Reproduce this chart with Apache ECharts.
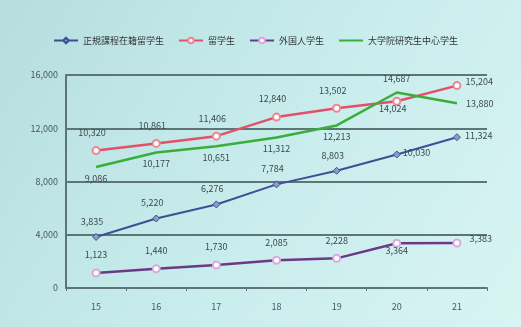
<!DOCTYPE html>
<html><head><meta charset="utf-8">
<script src="https://cdn.jsdelivr.net/npm/echarts@6/dist/echarts.min.js"></script>
<style>html,body{margin:0;padding:0;background:#fff}#c{width:521px;height:327px}</style>
</head><body><div id="c"></div>
<script>
const categories = ['15','16','17','18','19','20','21'];
const seriesNames = ['正規課程在籍留学生','留学生','外国人学生','大学院研究生中心学生'];
const blueVals = [3835, 5220, 6276, 7784, 8803, 10030, 11324];
const redVals = [10320, 10861, 11406, 12840, 13502, 14024, 15204];
const purpleVals = [1123, 1440, 1730, 2085, 2228, 3364, 3383];
const greenVals = [9086, 10177, 10651, 11312, 12213, 14687, 13880];
const yTicks = [0, 4000, 8000, 12000, 16000];

const fmt = v => v.toLocaleString('en-US');
const lblBase = {show:true, color:'#3d4a4a', fontSize:9, fontFamily:'Noto Sans CJK JP', formatter: p => fmt(p.value)};
function withPos(vals, positions){
  return vals.map((v,i)=>({value:v, label:positions[i]}));
}
const right = {position:'right', distance:8};
const chart = echarts.init(document.getElementById('c'));
chart.setOption({
  animation:false,
  backgroundColor:{type:'linear',x:0,y:0,x2:1,y2:1,colorStops:[{offset:0,color:'#b6dedf'},{offset:0.5,color:'#c8ecec'},{offset:1,color:'#d8f4f3'}]},
  textStyle:{fontFamily:'Noto Sans CJK JP'},
  legend:{top:31,left:48,itemWidth:24,itemHeight:7,itemGap:14,
    textStyle:{fontSize:9,color:'#333'},
    data:seriesNames},
  grid:{left:66,right:34,top:75,bottom:39},
  xAxis:{type:'category',data:categories,boundaryGap:true,
    axisLine:{lineStyle:{color:'#5d7675',width:2}},
    axisTick:{show:true,length:3,lineStyle:{color:'#5d7675'}},
    axisLabel:{color:'#4a5656',fontSize:9,margin:14}},
  yAxis:{type:'value',min:0,max:16000,interval:4000,
    axisLine:{show:true,lineStyle:{color:'#5d7675',width:2}},
    axisTick:{show:false},
    splitLine:{lineStyle:{color:'#5d7675',width:2}},
    axisLabel:{color:'#4a5656',fontSize:9,formatter:v=>yTicks.includes(v)?fmt(v):''}},
  series:[
    {name:seriesNames[0],type:'line',data:withPos(blueVals,[{},{},{},{},{position:'top'},{position:'right',distance:6},right]),
      symbol:'diamond',symbolSize:7,color:'#3d4f94',lineStyle:{width:2,color:'#3d4f94'},
      itemStyle:{color:'#8e9cc8',borderColor:'#3d4f94',borderWidth:1},
      label:Object.assign({},lblBase,{position:'top',offset:[-4,-2]})},
    {name:seriesNames[1],type:'line',data:withPos(redVals,[{},{},{},{},{},{position:'bottom',distance:2},right]),
      symbol:'emptyCircle',symbolSize:7,color:'#e2506a',lineStyle:{width:2.5,color:'#e2506a'},
      itemStyle:{color:'#ec8696',borderWidth:2},
      label:Object.assign({},lblBase,{position:'top',offset:[-4,-4]})},
    {name:seriesNames[2],type:'line',data:withPos(purpleVals,[{},{},{},{},{},{position:'bottom',distance:2},right]),
      symbol:'emptyCircle',symbolSize:7,color:'#6b3a86',lineStyle:{width:2.5,color:'#6b3a86'},
      itemStyle:{color:'#d9a9dd',borderWidth:2},
      label:Object.assign({},lblBase,{position:'top',offset:[0,-4]})},
    {name:seriesNames[3],type:'line',data:withPos(greenVals,[{},{},{},{},{},{position:'top',distance:8},right]),
      symbol:'circle',symbolSize:2,color:'#3aae3a',lineStyle:{width:2.5,color:'#3aae3a'},
      itemStyle:{color:'rgba(0,0,0,0)',borderWidth:0},
      label:Object.assign({},lblBase,{position:'bottom',distance:6})}
  ]
});
</script></body></html>
